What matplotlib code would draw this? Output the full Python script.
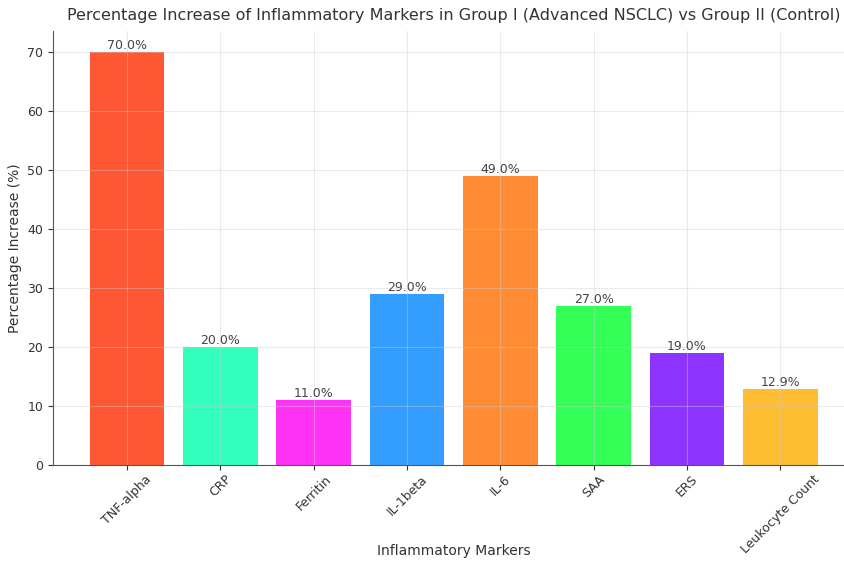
import matplotlib.pyplot as plt

markers = ['TNF-alpha', 'CRP', 'Ferritin', 'IL-1beta', 'IL-6', 'SAA', 'ERS', 'Leukocyte Count']
increase = [70.0, 20.0, 11.0, 29.0, 49.0, 27.0, 19.0, 12.9]
colors = ['#FF5733', '#33FFBD', '#FF33F6', '#339CFF', '#FF8C33', '#33FF57', '#8C33FF', '#FFBD33']

fig = plt.figure(figsize=(8.44, 5.64), dpi=100)
ax = fig.add_axes([0.063, 0.1755, 0.949, 0.769])

bars = ax.bar(markers, increase, color=colors, width=0.8)
for b, v in zip(bars, increase):
    ax.text(b.get_x() + b.get_width() / 2, v, f'{v:.1f}%', ha='center', va='bottom',
            fontsize=9, color='#444444')

ax.set_title('Percentage Increase of Inflammatory Markers in Group I (Advanced NSCLC) vs Group II (Control)',
             fontsize=11.5, color='#333333', pad=8)
ax.set_xlabel('Inflammatory Markers', fontsize=10, color='#333333')
ax.xaxis.set_label_coords(0.5, -0.183)
ax.set_ylabel('Percentage Increase (%)', fontsize=10, color='#333333')
ax.set_xticks(range(len(markers)))
ax.set_xticklabels(markers, rotation=45, ha='center')
ax.tick_params(labelsize=9, colors='#333333')
ax.tick_params(axis='x', pad=2)
ax.grid(True, color='#cccccc', alpha=0.4, linewidth=0.8)
ax.spines['top'].set_visible(False)
ax.spines['right'].set_visible(False)
ax.spines['left'].set_color('#555555')
ax.spines['bottom'].set_color('#555555')

fig.savefig('out.png', dpi=100)
